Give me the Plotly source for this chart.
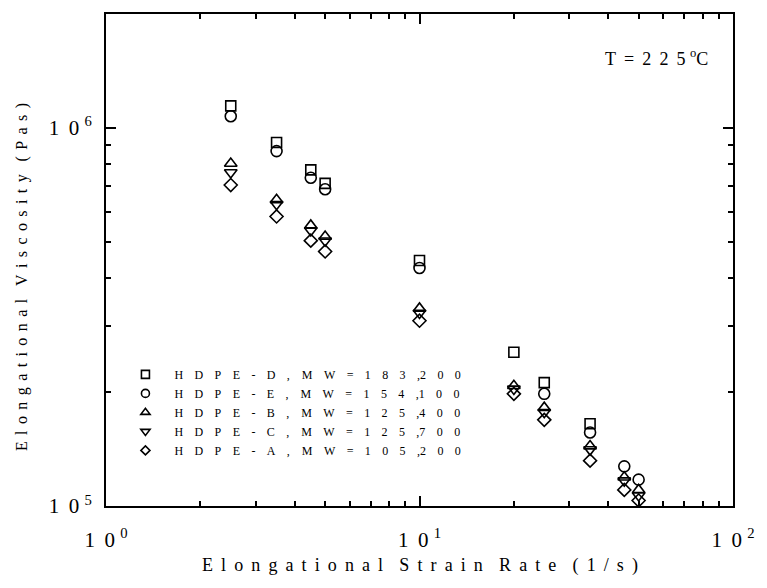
import plotly.graph_objects as go

# ---------------- data ----------------
series_names = ["HDPE-D, MW=183,200", "HDPE-E, MW=154,100", "HDPE-B, MW=125,400",
                "HDPE-C, MW=125,700", "HDPE-A, MW=105,200"]

rate_D = [2.5, 3.5, 4.5, 5.0, 10, 20, 25, 35]
visc_D = [1.143e6, 9.15e5, 7.74e5, 7.13e5, 4.46e5, 2.55e5, 2.12e5, 1.65e5]

rate_E = [2.5, 3.5, 4.5, 5.0, 10, 25, 35, 45, 50]
visc_E = [1.073e6, 8.68e5, 7.38e5, 6.88e5, 4.26e5, 1.98e5, 1.565e5, 1.273e5, 1.174e5]

rate_B = [2.5, 3.5, 4.5, 5.0, 10, 20, 25, 35, 45, 50]
visc_B = [8.05e5, 6.45e5, 5.52e5, 5.16e5, 3.33e5, 2.08e5, 1.82e5, 1.44e5, 1.191e5, 1.103e5]

rate_C = [2.5, 3.5, 4.5, 5.0, 10, 20, 25, 35, 45, 50]
visc_C = [7.62e5, 6.28e5, 5.35e5, 5.03e5, 3.24e5, 2.04e5, 1.77e5, 1.41e5, 1.167e5, 1.066e5]

rate_A = [2.5, 3.5, 4.5, 5.0, 10, 20, 25, 35, 45, 50]
visc_A = [7.06e5, 5.83e5, 5.03e5, 4.71e5, 3.09e5, 1.98e5, 1.69e5, 1.318e5, 1.103e5, 1.034e5]

x_major = [1, 10, 100]
x_major_text = ["1\u00a0\u20090\u00a0<sup>0</sup>", "1\u00a0\u20090\u00a0<sup>1</sup>",
                "1\u00a0\u20090\u00a0<sup>2</sup>"]
x_minor = [2, 3, 4, 5, 6, 7, 8, 9, 20, 30, 40, 50, 60, 70, 80, 90]
y_major = [1e5, 1e6]
y_major_text = ["1\u00a0\u20090\u00a0<sup>5</sup>", "1\u00a0\u20090\u00a0<sup>6</sup>"]
y_minor = [2e5, 3e5, 4e5, 5e5, 6e5, 7e5, 8e5, 9e5, 2e6]

x_title = "Elongational Strain Rate (1/s)"
y_title = "Elongational Viscosity (Pas)"
temp_label = "T\u00a0\u2009=\u00a0\u20092\u00a0\u20092\u00a0\u20095\u00a0<sup>o</sup>C"

FONT = "Liberation Serif"


def spread(text, gap, word):
    words = []
    for w in text.split(" "):
        s = ""
        for i, ch in enumerate(w):
            s += ch
            if i < len(w) - 1 and not (ch == "," and w[i + 1].isdigit()):
                s += gap
        words.append(s)
    return word.join(words)


series = [
    (rate_D, visc_D, "square-open", 10, 8),
    (rate_E, visc_E, "circle-open", 11, 8),
    (rate_B, visc_B, "triangle-up-open", 11, 8),
    (rate_C, visc_C, "triangle-down-open", 11, 8),
    (rate_A, visc_A, "diamond-open", 10, 7),
]

fig = go.Figure()
for (xs, ys, sym, sz, lsz), name in zip(series, series_names):
    fig.add_trace(go.Scatter(
        x=xs, y=ys, mode="markers", name=name, showlegend=False,
        marker=dict(symbol=sym, size=sz, color="black", line=dict(color="black", width=1.6)),
    ))
# legend entries (same symbols, drawn at the smaller legend size)
for (xs, ys, sym, sz, lsz), name in zip(series, series_names):
    label = "\u00a0\u00a0\u00a0" + spread(name, "\u00a0\u00a0\u00a0\u2009", "\u00a0\u00a0\u00a0\u00a0")
    fig.add_trace(go.Scatter(
        x=[None], y=[None], mode="markers", name=label, showlegend=True,
        marker=dict(symbol=sym, size=lsz, color="black", line=dict(color="black", width=1.6)),
    ))

axis_common = dict(
    type="log", showgrid=False, zeroline=False,
    showline=True, linecolor="black", linewidth=2, mirror="ticks",
    ticks="inside", ticklen=10, tickwidth=1.5, tickcolor="black",
    tickfont=dict(family=FONT, size=21, color="black"),
    ticklabeloverflow="allow",
)

fig.update_xaxes(
    **axis_common, range=[0, 2], tickmode="array", tickvals=x_major, ticktext=x_major_text,
    ticklabelstandoff=14,
    minor=dict(tickmode="array", tickvals=x_minor, ticks="inside", ticklen=5,
               tickwidth=1.5, tickcolor="black", showgrid=False),
)
fig.update_yaxes(
    **axis_common, range=[5, 6.30103], tickmode="array", tickvals=y_major, ticktext=y_major_text,
    ticklabelstandoff=8,
    minor=dict(tickmode="array", tickvals=y_minor, ticks="inside", ticklen=5,
               tickwidth=1.5, tickcolor="black", showgrid=False),
)

fig.add_annotation(
    text=spread(x_title, "\u00a0\u2009", "\u00a0\u2009\u00a0\u2009"),
    xref="paper", yref="paper", x=0.5, y=-0.1215, xanchor="center", yanchor="middle",
    showarrow=False, font=dict(family=FONT, size=18, color="black"),
)
fig.add_annotation(
    text=spread(y_title, "\u2009\u2009", "\u2009\u2009\u2009\u2009"),
    xref="paper", yref="paper", x=-0.1337, y=0.4656, xanchor="center", yanchor="middle",
    textangle=-90, showarrow=False, font=dict(family=FONT, size=16, color="black"),
)
fig.add_annotation(
    text=temp_label,
    xref="paper", yref="paper", x=0.792, y=0.911, xanchor="left", yanchor="middle",
    showarrow=False, font=dict(family=FONT, size=18, color="black"),
)

fig.update_layout(
    width=767, height=588,
    margin=dict(l=106, r=18, t=12, b=82),
    paper_bgcolor="white", plot_bgcolor="white",
    font=dict(family=FONT, color="black"),
    showlegend=True,
    legend=dict(x=0.031, y=0.297, xanchor="left", yanchor="top",
                font=dict(family=FONT, size=12, color="black"),
                bgcolor="rgba(0,0,0,0)", tracegroupgap=0, itemwidth=30),
)

fig.write_html("out.html", config={"displayModeBar": False},
               post_script="document.body.style.margin='0px';")
